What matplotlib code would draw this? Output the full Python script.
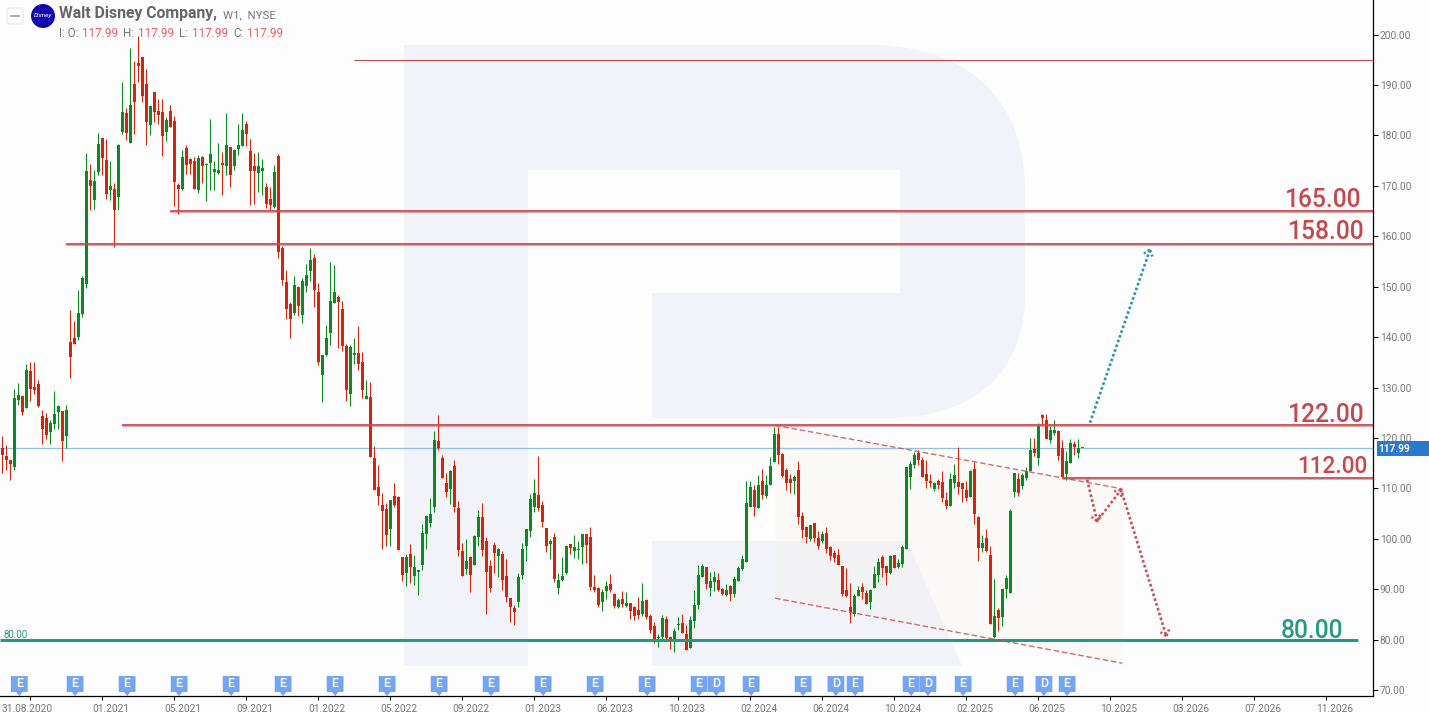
import matplotlib
matplotlib.use('Agg')
import matplotlib.pyplot as plt
import matplotlib.patches as patches
import numpy as np
from matplotlib.path import Path
from matplotlib.transforms import Affine2D, ScaledTranslation

W, H = 1429, 712
GREEN = "#0b8a1f"
RED = "#d7230b"
LEVEL_RED = "#c4494f"
TEAL = "#259a80"
GREY = "#777777"
LOGO = "#f1f3f8"
PX_PER_WEEK = 4.0
PX_PER_DOLLAR = 5.04

opens = [
	118.1,116.4,115.6,114.3,127.5,128.3,126.0,133.3,130.1,130.7,
	124.4,124.0,121.2,122.8,125.1,125.4,120.3,139.0,139.8,140.0,
	144.6,150.5,171.2,167.2,172.8,179.5,175.1,169.2,169.4,167.8,
	180.7,184.5,178.5,190.2,194.4,195.6,190.2,182.1,188.6,184.9,
	184.7,180.7,184.9,182.9,170.2,169.4,177.5,175.3,175.0,169.2,
	175.7,174.1,174.5,172.8,172.6,174.5,174.0,177.7,174.0,177.3,
	177.9,182.3,176.9,174.0,172.6,172.9,169.8,167.4,165.8,175.9,
	157.6,150.9,146.6,144.8,149.9,144.4,150.1,153.1,155.7,148.9,
	132.5,136.4,140.8,146.8,147.9,145.6,138.2,128.7,136.4,136.8,
	135.1,127.7,128.1,116.0,110.3,106.7,105.9,101.9,108.5,108.3,
	96.4,93.2,97.0,92.6,93.4,94.8,100.9,103.1,106.3,119.4,
	116.0,111.1,109.9,114.4,106.1,97.6,94.0,96.4,94.8,100.3,
	104.3,99.5,94.6,98.7,96.6,97.0,92.6,88.2,86.3,87.4,
	92.8,98.5,101.5,106.3,108.7,106.7,102.1,98.9,100.3,90.2,
	91.8,93.2,98.9,97.6,97.8,98.4,100.9,100.3,90.4,90.2,
	87.4,89.6,91.0,89.0,86.4,88.0,86.6,87.2,86.4,85.9,
	85.1,87.8,84.7,82.7,80.3,80.5,84.1,80.5,79.5,82.9,
	83.3,81.1,78.3,83.7,86.8,92.4,94.4,90.2,91.4,91.8,
	90.0,88.8,90.6,89.0,91.6,94.0,95.4,106.3,109.7,106.1,
	111.4,108.5,110.7,115.2,120.8,116.8,113.6,111.8,111.4,113.6,
	104.5,102.3,99.9,103.1,100.1,99.6,101.1,98.4,97.2,96.8,
	94.6,89.8,86.5,85.1,88.6,90.4,89.2,87.4,90.2,92.8,
	96.4,94.6,93.2,96.8,94.4,95.0,98.0,112.2,114.6,117.0,
	115.6,112.8,111.4,109.9,111.4,111.3,107.7,106.5,111.1,111.3,
	111.1,109.7,108.3,113.8,104.3,98.2,100.1,96.8,80.5,85.9,
	84.5,90.0,89.2,109.3,111.8,110.5,112.0,113.4,117.8,116.0,
	124.5,123.6,119.6,121.0,121.4,118.0,112.8,115.0,118.8,117.0,
	117.99]

highs = [
	120.3,118.6,115.6,129.8,130.8,128.3,134.6,135.1,135.1,131.5,
	125.5,124.9,123.6,129.3,126.5,125.4,126.5,145.4,143.2,149.3,
	152.1,176.5,174.3,173.2,180.5,179.7,179.4,175.0,170.6,178.3,
	190.6,185.5,197.4,194.8,199.7,195.6,193.2,186.0,188.6,187.2,
	187.2,183.6,186.0,183.9,170.6,177.1,178.1,175.5,175.7,176.1,
	175.9,174.6,183.3,175.0,178.5,176.7,184.5,177.7,177.3,182.3,
	184.5,182.9,179.3,176.5,176.7,175.3,170.6,169.8,174.1,176.3,
	158.1,153.3,147.0,152.1,150.1,151.7,154.5,157.7,156.5,150.7,
	136.4,142.4,154.9,154.3,148.4,147.2,138.6,138.4,139.8,142.2,
	137.0,131.5,131.1,118.4,114.6,109.1,107.1,107.7,111.1,108.5,
	96.4,97.0,98.9,96.8,93.8,102.9,104.7,108.1,121.4,124.5,
	116.6,113.0,113.6,115.6,107.5,99.2,99.9,96.6,100.7,105.7,
	107.1,100.3,95.8,99.3,98.2,97.6,96.0,88.2,86.8,93.2,
	99.1,101.9,108.9,111.8,116.4,107.5,102.1,99.9,101.1,93.2,
	96.4,98.7,98.9,100.7,99.5,100.9,100.9,102.3,92.8,90.4,
	90.0,91.6,93.0,89.2,88.2,89.6,89.4,87.2,86.6,88.4,
	91.2,88.0,85.1,83.5,81.1,84.9,84.7,80.5,82.3,84.5,
	85.1,82.9,84.7,89.8,94.8,95.0,94.4,93.4,93.6,93.2,
	90.2,91.0,90.8,92.6,94.6,96.8,111.4,111.4,110.6,112.6,
	113.8,112.6,116.2,122.2,122.2,117.0,114.0,112.8,112.6,115.4,
	105.3,102.5,102.7,103.1,101.5,101.5,102.3,98.6,97.8,98.0,
	94.6,94.2,91.2,89.0,90.6,91.2,89.8,90.0,94.6,96.2,
	96.8,94.6,96.8,96.8,96.0,98.8,114.2,115.4,117.2,117.6,
	116.2,115.6,112.8,111.3,111.9,113.4,109.3,113.0,114.8,118.2,
	111.1,111.4,113.6,115.2,104.5,100.7,101.9,98.6,92.0,86.3,
	90.0,92.8,105.9,113.0,113.0,113.0,114.2,120.0,120.0,123.0,
	124.7,124.7,122.4,123.6,121.6,119.6,117.4,119.8,119.4,119.8,
	117.99]

lows = [
	113.0,113.6,111.7,113.6,126.5,124.5,126.0,127.3,128.7,126.2,
	118.8,119.8,118.8,121.8,121.8,115.4,118.0,131.9,138.6,139.4,
	144.0,149.7,165.2,165.4,172.2,172.2,167.4,167.2,157.9,165.2,
	180.3,179.1,178.5,180.3,190.6,186.6,178.1,180.1,182.7,182.3,
	175.9,178.9,181.7,166.0,164.4,169.2,172.4,172.4,169.4,168.6,
	170.6,167.0,169.2,169.2,172.4,168.2,172.2,169.8,173.2,176.1,
	177.9,177.9,166.2,166.4,168.8,168.2,165.6,165.3,165.6,155.7,
	150.3,143.6,139.8,144.4,144.2,142.8,148.9,151.1,146.0,134.5,
	127.1,136.3,138.4,146.8,137.8,137.2,127.3,126.3,134.7,133.5,
	127.9,127.7,116.3,109.7,106.7,98.0,98.6,98.6,106.3,97.8,
	91.6,90.6,91.2,90.8,88.8,93.8,98.0,102.3,105.3,117.6,
	112.0,108.3,106.9,105.3,96.6,92.6,93.0,89.4,94.8,98.6,
	96.6,85.1,89.4,93.2,92.4,89.8,87.4,83.5,82.9,86.4,
	92.0,95.6,100.3,105.3,105.5,102.3,97.4,96.0,91.4,89.0,
	91.6,93.0,97.0,96.2,96.0,95.0,95.2,89.8,89.4,86.4,
	85.6,88.0,89.4,86.3,86.3,86.4,86.4,84.1,83.9,84.1,
	84.7,84.1,81.3,79.3,78.5,79.9,79.9,78.1,77.5,81.9,
	81.3,77.9,78.3,82.3,86.1,92.4,90.0,88.6,89.6,89.6,
	88.8,88.6,87.6,88.4,91.6,93.8,95.4,106.3,104.5,106.1,
	107.9,108.1,110.7,115.2,114.8,112.2,109.7,109.1,108.9,102.9,
	100.1,99.1,99.5,99.4,98.0,99.1,97.2,95.8,95.4,94.8,
	88.6,88.4,83.3,84.7,88.6,88.0,87.0,86.0,90.2,91.4,
	92.4,90.8,93.0,94.2,94.2,94.4,98.0,109.9,114.0,114.6,
	112.2,110.1,110.3,109.5,109.9,107.3,105.9,106.5,110.1,108.9,
	107.3,107.5,108.3,102.9,95.6,97.4,97.4,83.1,80.3,81.7,
	82.7,88.2,89.2,108.3,108.5,109.9,111.7,113.4,116.4,114.6,
	122.6,119.8,119.0,120.6,115.6,112.0,111.6,115.0,116.6,116.0,
	117.99]

closes = [
	116.7,115.6,114.8,127.9,128.5,125.2,133.5,129.8,129.5,126.4,
	121.8,120.5,123.0,124.8,126.3,119.3,125.5,136.1,138.6,144.8,
	151.7,173.0,170.0,171.0,178.3,175.5,168.4,170.0,165.2,178.1,
	184.7,180.5,186.0,186.6,193.8,187.8,182.7,185.9,184.7,184.1,
	179.9,183.1,181.7,170.8,169.4,175.7,174.1,174.3,169.4,175.5,
	174.0,174.2,176.3,173.4,173.2,174.1,178.1,172.2,177.1,178.1,
	181.1,180.3,172.9,172.9,174.0,173.6,166.4,166.2,172.8,156.9,
	151.3,145.6,143.6,150.3,146.2,151.1,152.3,155.3,149.3,135.1,
	136.4,139.8,147.2,148.9,147.0,138.2,129.5,138.0,136.8,134.7,
	129.5,128.3,116.3,109.7,108.5,105.5,100.7,107.7,106.7,97.8,
	92.8,96.4,94.4,94.4,93.8,101.1,104.5,104.9,119.6,118.0,
	112.0,109.3,113.4,106.3,97.8,92.6,95.6,92.8,100.5,104.3,
	97.8,93.4,90.2,97.2,98.0,91.8,88.4,86.4,85.5,92.4,
	98.0,101.9,107.9,109.1,106.1,103.3,98.5,99.5,92.0,91.8,
	92.6,98.5,98.2,98.4,98.0,100.9,98.7,90.4,89.8,86.8,
	89.4,90.6,89.8,86.6,87.8,87.0,87.2,85.6,84.7,84.9,
	87.6,84.5,81.9,80.1,80.4,84.3,80.3,79.9,81.7,83.1,
	81.3,77.9,83.9,86.8,92.8,94.6,91.0,91.6,92.4,89.8,
	89.0,89.8,89.0,92.0,94.2,96.0,107.1,110.3,106.3,110.6,
	108.7,110.7,114.4,120.8,116.6,112.4,111.1,111.1,112.2,104.3,
	101.7,100.3,102.7,100.1,98.6,100.9,98.0,96.6,96.2,94.8,
	89.0,88.6,85.5,88.6,89.8,89.4,87.0,89.8,93.0,95.4,
	94.2,93.2,96.6,94.2,95.2,98.4,114.2,114.8,116.6,115.6,
	112.2,111.4,111.1,111.1,110.7,108.1,106.5,111.8,112.6,110.3,
	109.9,108.1,113.4,104.9,98.2,99.2,97.6,83.1,84.7,84.3,
	90.0,92.2,105.5,113.0,109.1,112.6,113.4,117.6,117.0,122.4,
	123.9,119.8,121.6,121.6,116.4,112.2,115.4,119.0,118.2,118.0,
	117.99]

# x axis, in weeks from the first candle
tick_weeks = [6.9 + 18 * k for k in range(19)]
tick_labels = ["31.08.2020", "01.2021", "05.2021", "09.2021", "01.2022", "05.2022", "09.2022",
	"01.2023", "06.2023", "10.2023", "02.2024", "06.2024", "10.2024", "02.2025", "06.2025",
	"10.2025", "03.2026", "07.2026", "11.2026"]
price_ticks = [70, 80, 90, 100, 110, 120, 130, 140, 150, 160, 170, 180, 190, 200]

# level lines: price, first week
level_prices = [195.0, 165.1, 158.4, 122.5, 112.1]
level_starts = [87.9, 41.9, 15.9, 29.9, 264.9]
level_widths = [0.8, 1.1, 1.1, 1.1, 1.1]
support_price = 80.0
last_price = 117.99

# forecast paths and the channel
channel_weeks = [193.2, 280.0]
channel_upper = [122.5, 109.9]
channel_lower = [88.2, 75.3]
up_weeks = [271.9, 286.9]
up_prices = [123.0, 157.3]
down_weeks = [271.2, 273.7, 279.7, 291.0]
down_prices = [111.7, 103.5, 109.7, 80.7]

event_weeks = [4.25, 18.2, 31.2, 44.2, 57.2, 70.2, 83.2, 96.2, 109.2, 122.2, 135.2, 148.2, 161.2,
	174.2, 178.5, 187.2, 200.2, 208.4, 213.2, 227.2, 231.4, 240.2, 253.2, 260.4, 266.2]
event_kinds = ["E"] * 14 + ["D", "E", "E", "D", "E", "E", "D", "E", "E", "D", "E"]

plt.rcParams['font.family'] = ['Roboto', 'DejaVu Sans']

fig = plt.figure(figsize=(W / 100, H / 100), dpi=100, facecolor="#fdfdfd")
ax = fig.add_axes([0, 16 / H, 1373 / W, 696 / H], facecolor="none")
ax.set_xlim(-0.58, 342.67)
ax.set_ylim(68.8, 206.88)

# pixel coordinates of the picture, top left origin, for the decoration
px = Affine2D().scale(1, -1).translate(0, H)


def draw_logo():
	verts = [(404, 45), (880, 45), (975, 50), (1025, 105), (1025, 190), (1025, 295), (1025, 375), (970, 418), (890, 418),
		(652, 418), (652, 293), (900, 293), (900, 170), (528, 170), (528, 666), (404, 666), (404, 45)]
	codes = [Path.MOVETO, Path.LINETO, Path.CURVE4, Path.CURVE4, Path.CURVE4, Path.LINETO, Path.CURVE4, Path.CURVE4, Path.CURVE4,
		Path.LINETO, Path.LINETO, Path.LINETO, Path.LINETO, Path.LINETO, Path.LINETO, Path.LINETO, Path.CLOSEPOLY]
	fig.add_artist(patches.PathPatch(Path(verts, codes), facecolor=LOGO, edgecolor="none", transform=px, zorder=-5))
	fig.add_artist(patches.Polygon([(652, 541), (907, 541), (962, 666), (652, 666)], facecolor=LOGO,
		edgecolor="none", transform=px, zorder=-5))


def draw_candles():
	colors = [GREEN if c >= o else RED for o, c in zip(opens, closes)]
	weeks = range(len(opens))
	ax.vlines(weeks, lows, highs, colors=colors, linewidth=0.75, zorder=2)
	bottoms = [min(o, c) for o, c in zip(opens, closes)]
	heights = [max(abs(o - c), 0.2) for o, c in zip(opens, closes)]
	ax.bar(weeks, heights, bottom=bottoms, width=0.72, color=colors, linewidth=0, zorder=3)


def draw_levels():
	right = ax.get_xlim()[1]
	for price, start, lw in zip(level_prices, level_starts, level_widths):
		if lw > 1:
			ax.plot([start, right], [price, price], color=LEVEL_RED, lw=2.2, alpha=0.45, solid_capstyle="butt", zorder=4)
		ax.plot([start, right], [price, price], color=LEVEL_RED, lw=lw, solid_capstyle="butt", zorder=4)
	ax.plot([-0.58, 339], [support_price, support_price], color=TEAL, lw=2.2, solid_capstyle="butt", zorder=4)
	ax.axhline(last_price, color="#8fc0ec", lw=0.9, zorder=1)


def dotted_path(weeks, prices, color):
	dots = dict(color=color, lw=1.9, ls=(0, (1, 0.9)), zorder=6)
	ax.plot(weeks, prices, **dots)
	# small barbs at the end of each leg
	for i in range(len(weeks) - 1):
		dx = (weeks[i + 1] - weeks[i]) * PX_PER_WEEK
		dy = (prices[i + 1] - prices[i]) * PX_PER_DOLLAR
		ang = np.arctan2(dy, dx)
		for turn in (np.pi - 0.7, np.pi + 0.7):
			ax.plot([weeks[i + 1], weeks[i + 1] + 7 * np.cos(ang + turn) / PX_PER_WEEK],
				[prices[i + 1], prices[i + 1] + 7 * np.sin(ang + turn) / PX_PER_DOLLAR], **dots)


def draw_forecast():
	ax.fill_between(channel_weeks, channel_lower, channel_upper, color="#f7ece4", alpha=0.22, linewidth=0, zorder=0)
	for prices in (channel_upper, channel_lower):
		ax.plot(channel_weeks, prices, color=LEVEL_RED, lw=1, ls=(0, (4, 2)), alpha=0.8, zorder=5)
	dotted_path(up_weeks, up_prices, "#2c8fbd")
	dotted_path(down_weeks, down_prices, "#c8505a")


def draw_events():
	for week, kind in zip(event_weeks, event_kinds):
		left, right = week - 2.1, week + 2.1
		ax.add_patch(patches.Polygon([(left, 72.76), (right, 72.76), (right, 69.6), (week + 0.8, 69.6), (week, 68.8),
			(week - 0.8, 69.6), (left, 69.6)], facecolor="#75a5f0", edgecolor="none", zorder=6))
		ax.text(week, 71.2, kind, color="white", fontsize=9, ha="center", va="center", fontweight="medium", zorder=7)


def draw_axes():
	for side in ("left", "top"):
		ax.spines[side].set_visible(False)
	for side in ("right", "bottom"):
		ax.spines[side].set_linewidth(0.9)
		ax.spines[side].set_color("black")
		ax.spines[side].set_zorder(8)
	ax.yaxis.tick_right()
	ax.set_yticks(price_ticks, [f"{p:.2f}" for p in price_ticks])
	ax.set_xticks(tick_weeks, tick_labels)
	ax.tick_params(axis="y", length=3.5, width=0.7, pad=1.5, labelsize=7.3, labelcolor=GREY)
	ax.tick_params(axis="x", length=3, width=0.7, pad=2.5, labelsize=7.3, labelcolor=GREY)
	for i, lab in enumerate(ax.get_xticklabels()):
		shift = -28 if i == 0 else -10
		lab.set_ha("left")
		lab.set_transform(lab.get_transform() + ScaledTranslation(shift / 100, 0, fig.dpi_scale_trans))


def draw_labels():
	big = dict(transform=px, color=LEVEL_RED, ha="right", va="baseline", fontweight="medium")
	fig.text(1361, 207, "165.00", fontsize=17.7, **big)
	fig.text(1365, 239, "158.00", fontsize=17.7, **big)
	fig.text(1365, 422, "122.00", fontsize=17.7, **big)
	fig.text(1367, 473, "112.00", fontsize=16.3, **big)
	big["color"] = TEAL
	fig.text(1343, 638, "80.00", fontsize=17.7, **big)
	fig.text(3, 638, "80.00", color=TEAL, fontsize=7, transform=px, va="baseline")
	fig.add_artist(patches.Rectangle((1377, 441), 52, 15, facecolor="#2a79cc", edgecolor="none", transform=px))
	fig.text(1378, 448.5, "117.99", color="white", fontsize=7.3, fontweight="bold", transform=px, va="center")


def draw_header():
	fig.add_artist(patches.FancyBboxPatch((9, 10), 12, 12, boxstyle="round,pad=2,rounding_size=3", facecolor="white",
		edgecolor="#e4e6ea", lw=0.8, transform=px))
	fig.add_artist(plt.Line2D([11, 19], [16, 16], color="#a8aeb8", lw=1.4, transform=px))
	fig.add_artist(patches.Ellipse((43, 16), 24, 24, facecolor="#1606b0", edgecolor="none", transform=px))
	fig.text(43, 16, "Disney", color="white", fontsize=4.6, style="italic", ha="center", va="center", transform=px)
	fig.text(59, 18, "Walt Disney Company,", color="#666666", fontsize=11.3, fontweight="bold", transform=px, va="baseline")
	fig.text(223, 18, "W1,  NYSE", color="#777777", fontsize=8.2, transform=px, va="baseline")
	pieces = [(59, "I: O:", GREY), (82, "117.99", "#ee5a60"), (123, "H:", GREY), (138, "117.99", "#ee5a60"),
		(179, "L:", GREY), (192, "117.99", "#ee5a60"), (233, "C:", GREY), (247, "117.99", "#ee5a60")]
	for x, s, c in pieces:
		fig.text(x, 37, s, color=c, fontsize=8.4, transform=px, va="baseline")


draw_logo()
draw_forecast()
draw_candles()
draw_levels()
draw_events()
draw_axes()
draw_labels()
draw_header()

fig.savefig("out.png", dpi=100, facecolor=fig.get_facecolor())
